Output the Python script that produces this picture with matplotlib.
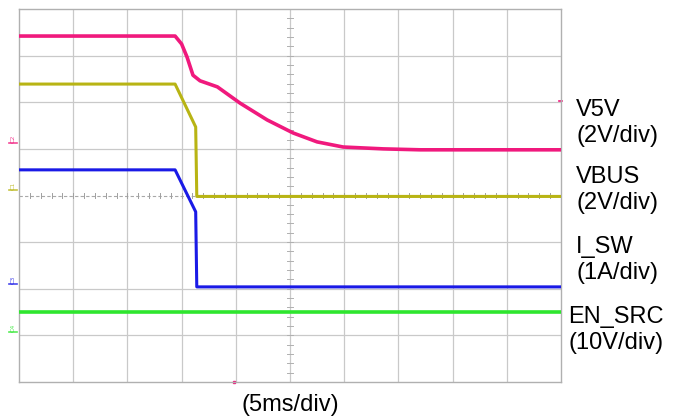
import numpy as np
import matplotlib.pyplot as plt

# time axis in ms (5 ms/div, 10 div), levels in screen divisions (0 = centre line)
t_v5v = [0.0, 14.4, 15.0, 15.5, 16.05, 16.7, 18.3, 20.4, 22.9, 25.3, 27.5, 29.9, 33.6, 37.0, 50.0]
v5v = [3.42, 3.42, 3.25, 2.97, 2.58, 2.46, 2.33, 1.98, 1.62, 1.34, 1.15, 1.04, 1.00, 0.98, 0.98]

t_vbus = [0.0, 14.4, 16.3, 16.4, 50.0]
vbus = [2.39, 2.39, 1.47, -0.02, -0.02]

t_isw = [0.0, 14.4, 16.3, 16.4, 50.0]
isw = [0.55, 0.55, -0.35, -1.96, -1.96]

t_en = [0.0, 50.0]
en_src = [-2.50, -2.50]

# channel ground markers on the left edge
markers = ["C2", "C1", "C3", "C4"]
marker_lvl = [1.13, 0.12, -1.90, -2.93]
colors = ["#f0197d", "#b8b414", "#1a1ae6", "#2ee62e"]

labels = ["V5V\n(2V/div)", "VBUS\n(2V/div)", "I_SW\n(1A/div)", "EN_SRC\n(10V/div)"]
label_y = [123, 190, 260, 330]
label_x = [576, 576, 576, 568]

fig = plt.figure(figsize=(6.78, 4.2), dpi=100)
ax = fig.add_axes([19 / 678, 38 / 420, 542 / 678, 373 / 420])
ax.set_xlim(0, 50)
ax.set_ylim(-4, 4)

grid_c = "#c9c9c9"
for x in np.arange(5, 50, 5):
    ax.axvline(x, color=grid_c, lw=0.9, zorder=1)
for y in np.arange(-3, 4, 1):
    if y != 0:
        ax.axhline(y, color=grid_c, lw=0.9, zorder=1)
ax.axhline(0, color="#a8a8a8", lw=0.8, ls=(0, (3, 2)), zorder=1)

# minor ticks on the centre lines
for x in np.arange(0, 50.01, 1):
    ax.plot([x, x], [-0.06, 0.06], color="#a0a0a0", lw=0.7, zorder=1)
for y in np.arange(-4, 4.01, 0.2):
    ax.plot([24.7, 25.3], [y, y], color="#b0b0b0", lw=0.7, zorder=1)

for s in ax.spines.values():
    s.set_color("#b0b0b0")
    s.set_linewidth(1.0)
ax.set_xticks([])
ax.set_yticks([])

ax.plot(t_en, en_src, color=colors[3], lw=2.6, zorder=3)
ax.plot(t_isw, isw, color=colors[2], lw=2.2, zorder=3)
ax.plot(t_vbus, vbus, color=colors[1], lw=2.2, zorder=3)
ax.plot(t_v5v, v5v, color=colors[0], lw=2.6, zorder=4)

for m, lv, c in zip(markers, marker_lvl, colors):
    ax.text(-0.55, lv, m, color=c, fontsize=4.5, rotation=90,
            ha="center", va="bottom", clip_on=False, alpha=0.8)
    ax.plot([-0.9, -0.2], [lv, lv], color=c, lw=1.2, clip_on=False, alpha=0.8)

# trigger level and position markers
ax.plot([49.8, 50.1], [2.02, 2.02], color=colors[0], lw=1.2, clip_on=False)
ax.plot([19.8], [-4.0], marker="s", ms=1.5, color=colors[0], clip_on=False)

for txt, yy, xx in zip(labels, label_y, label_x):
    fig.text(xx / 678, 1 - yy / 420, txt, fontsize=17, family="Liberation Sans",
             va="center", ha="left", linespacing=1.2)

fig.text(290 / 678, 1 - 405 / 420, "(5ms/div)", fontsize=17,
         family="Liberation Sans", ha="center", va="center")

fig.savefig("out.png", dpi=100)
